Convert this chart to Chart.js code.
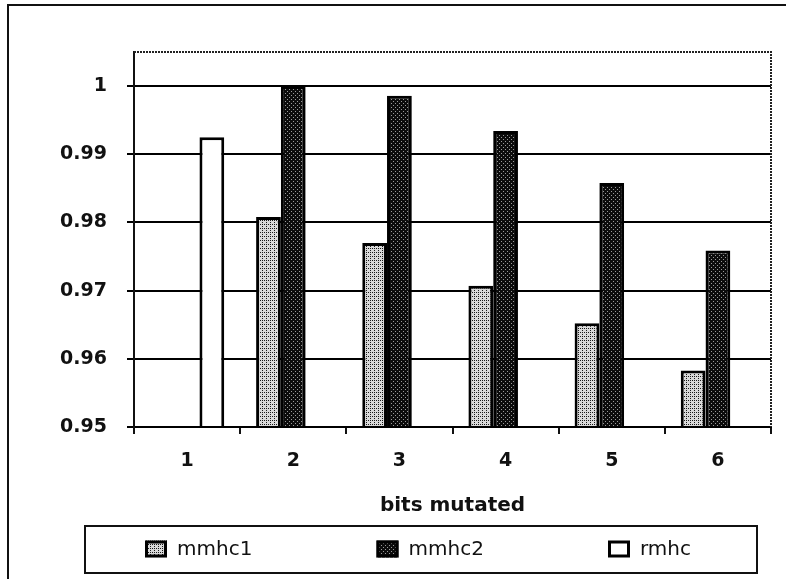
<!DOCTYPE html>
<html>
<head>
<meta charset="utf-8">
<script src="https://cdn.jsdelivr.net/npm/chart.js@4/dist/chart.umd.min.js"></script>
<style>
  html, body { margin: 0; padding: 0; background: #fff; }
  #wrap { width: 786px; height: 579px; }
</style>
</head>
<body>
<div id="wrap"><canvas id="c" width="786" height="579"></canvas></div>
<script>
// Fitness reached per number of mutated bits
const categories = ['1', '2', '3', '4', '5', '6'];
const mmhc1 = [null, 0.9808, 0.9770, 0.9707, 0.9652, 0.9583];
const mmhc2 = [null, 1.0000, 0.9986, 0.9934, 0.9858, 0.9759];
const rmhc  = [0.9925, null, null, null, null, null];
const seriesNames = ['mmhc1', 'mmhc2', 'rmhc'];
const yTicks = [0.95, 0.96, 0.97, 0.98, 0.99, 1];
const yMin = 0.95;
const yMax = 1.005;
const xTitle = 'bits mutated';

const FONT = '"DejaVu Sans", "Liberation Sans", Arial, sans-serif';

// Stippled fills for the bars
function stipple(bg, dot, spots) {
  const t = document.createElement('canvas');
  t.width = 4; t.height = 4;
  const g = t.getContext('2d');
  g.fillStyle = bg; g.fillRect(0, 0, 4, 4);
  g.fillStyle = dot;
  spots.forEach(([x, y]) => g.fillRect(x, y, 1, 1));
  return g.createPattern(t, 'repeat');
}
const lightFill = stipple('#d9d9d9', '#1a1a1a', [[0, 0], [2, 2], [2, 0]]);
const darkFill  = stipple('#0c0c0c', '#9a9a9a', [[1, 1], [3, 3]]);

// Page frame, plot frame and boxed legend
const decorations = {
  id: 'decorations',
  beforeDraw(chart) {
    const ctx = chart.ctx;
    ctx.save();
    ctx.fillStyle = '#fff';
    ctx.fillRect(0, 0, chart.width, chart.height);
    ctx.strokeStyle = '#111';
    ctx.lineWidth = 2;
    ctx.beginPath();
    ctx.moveTo(8, chart.height);
    ctx.lineTo(8, 5);
    ctx.lineTo(chart.width, 5);
    ctx.stroke();
    ctx.restore();
  },
  afterDatasetsDraw(chart) {
    const ctx = chart.ctx;
    const a = chart.chartArea;
    ctx.save();
    ctx.strokeStyle = '#222';
    ctx.lineWidth = 2;
    ctx.setLineDash([2, 1]);
    ctx.beginPath();
    ctx.moveTo(a.left, a.top);
    ctx.lineTo(a.right, a.top);
    ctx.lineTo(a.right, a.bottom);
    ctx.stroke();
    ctx.restore();
  },
  afterDraw(chart) {
    const ctx = chart.ctx;
    const box = { left: 85, top: 526, right: 757, bottom: 573 };
    ctx.save();
    ctx.strokeStyle = '#111';
    ctx.lineWidth = 2;
    ctx.strokeRect(box.left, box.top, box.right - box.left, box.bottom - box.top);
    const midY = (box.top + box.bottom) / 2;
    ctx.font = '20px ' + FONT;
    ctx.textBaseline = 'middle';
    ctx.textAlign = 'left';
    chart.data.datasets.forEach((ds, i) => {
      const x = box.left + 60 + i * 231.5;
      ctx.fillStyle = ds.backgroundColor;
      ctx.fillRect(x, midY - 9, 22, 17);
      ctx.lineWidth = 3;
      ctx.strokeStyle = '#000';
      ctx.strokeRect(x + 1.5, midY - 7.5, 19, 14);
      ctx.fillStyle = '#111';
      ctx.fillText(ds.label, x + 32, midY);
    });
    ctx.restore();
  }
};

const barStyle = { borderColor: '#000', borderWidth: 3, borderSkipped: 'start', base: yMin };

new Chart(document.getElementById('c'), {
  type: 'bar',
  data: {
    labels: categories,
    datasets: [
      Object.assign({ label: seriesNames[0], data: mmhc1, backgroundColor: lightFill }, barStyle),
      Object.assign({ label: seriesNames[1], data: mmhc2, backgroundColor: darkFill }, barStyle),
      Object.assign({ label: seriesNames[2], data: rmhc, backgroundColor: '#fff' }, barStyle)
    ]
  },
  options: {
    responsive: false,
    animation: false,
    devicePixelRatio: 1,
    categoryPercentage: 0.7,
    barPercentage: 1.0,
    layout: { padding: { top: 52, right: 15, bottom: 59, left: 0 } },
    plugins: {
      legend: { display: false },
      tooltip: { enabled: false },
      title: { display: false }
    },
    scales: {
      x: {
        offset: true,
        grid: {
          offset: true,
          drawOnChartArea: false,
          drawTicks: true,
          tickLength: 7,
          color: '#111',
          lineWidth: 2
        },
        border: { display: true, color: '#000', width: 2 },
        ticks: {
          color: '#111',
          padding: 16,
          font: { family: FONT, size: 19, weight: 'bold' }
        },
        title: {
          display: true,
          text: xTitle,
          color: '#111',
          padding: { top: 0, bottom: 2 },
          font: { family: FONT, size: 20, weight: 'bold' }
        },
        afterFit(scale) { scale.height = 93; }
      },
      y: {
        min: yMin,
        max: yMax,
        afterBuildTicks(scale) { scale.ticks = yTicks.map(v => ({ value: v })); },
        grid: {
          color: '#000',
          lineWidth: 2,
          drawTicks: true,
          tickLength: 7
        },
        border: { display: true, color: '#111', width: 2 },
        ticks: {
          color: '#111',
          padding: 20,
          font: { family: FONT, size: 19, weight: 'bold' },
          callback: v => String(Number(Number(v).toFixed(3)))
        },
        afterFit(scale) { scale.width = 134; }
      }
    }
  },
  plugins: [decorations]
});
</script>
</body>
</html>
